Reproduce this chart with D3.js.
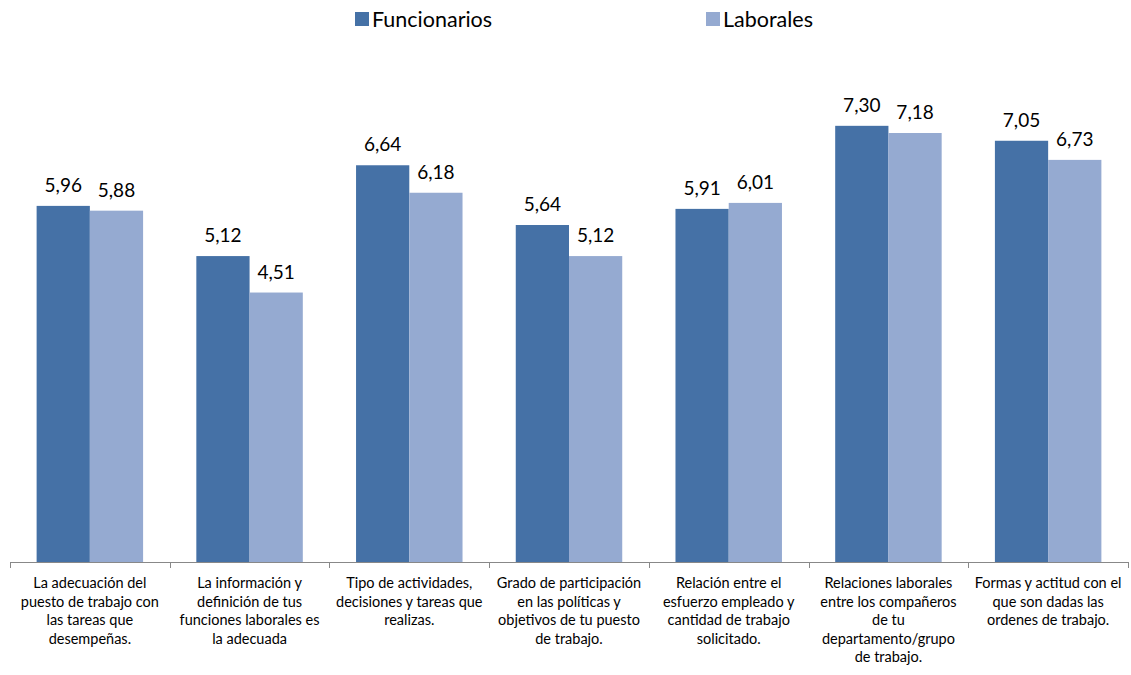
<!DOCTYPE html>
<html><head><meta charset="utf-8">
<script src="https://cdn.jsdelivr.net/npm/d3@7"></script>
<style>body{margin:0;background:#fff}svg{display:block;font-family:Lato,"Open Sans",sans-serif}</style>
</head><body><svg id="c" width="1131" height="675"></svg>
<script>
const categories = [
  ["La adecuación del","puesto de trabajo con","las tareas que","desempeñas."],
  ["La información y","definición de tus","funciones laborales es","la adecuada"],
  ["Tipo de actividades,","decisiones y tareas que","realizas."],
  ["Grado de participación","en las políticas y","objetivos de tu puesto","de trabajo."],
  ["Relación entre el","esfuerzo empleado y","cantidad de trabajo","solicitado."],
  ["Relaciones laborales","entre los compañeros","de tu","departamento/grupo","de trabajo."],
  ["Formas y actitud con el","que son dadas las","ordenes de trabajo."]
];
const seriesNames = ["Funcionarios","Laborales"];
const funcionarios = [5.96,5.12,6.64,5.64,5.91,7.30,7.05];
const laborales = [5.88,4.51,6.18,5.12,6.01,7.18,6.73];
const colors = ["#4571A6","#95AAD1"];

const svg = d3.select("#c");
const idx = d3.range(categories.length);
const x = d3.scaleBand().domain(idx).range([10,1128]).paddingInner(0).paddingOuter(0);
const y = d3.scaleLinear().domain([0,9]).range([562,562-9*59.75]);
const inner = d3.scaleBand().domain([0,1]).range([0,x.bandwidth()]).paddingInner(0).paddingOuter(0.5);
const series = [funcionarios, laborales];
series.forEach((vals,si)=>{
  const g = svg.append("g");
  g.selectAll("rect").data(vals).join("rect")
    .attr("x",(d,i)=>x(i)+inner(si))
    .attr("y",d=>y(d))
    .attr("width",inner.bandwidth())
    .attr("height",d=>y(0)-y(d))
    .attr("fill",colors[si]);
  g.selectAll("text").data(vals).join("text")
    .attr("x",(d,i)=>x(i)+inner(si)+inner.bandwidth()/2)
    .attr("y",d=>y(d)-14)
    .attr("text-anchor","middle")
    .attr("font-size",19)
    .attr("fill","#000")
    .text(d=>d.toFixed(2).replace(".",","));
});

const axis = svg.append("g");
axis.append("line").attr("x1",10).attr("x2",1128).attr("y1",562.5).attr("y2",562.5).attr("stroke","#888").attr("stroke-width",1);
const ticks = idx.map(i=>x(i)).concat([x.range()[1]]);
axis.selectAll("line.t").data(ticks).join("line").attr("class","t")
  .attr("x1",d=>Math.round(d)+0.5).attr("x2",d=>Math.round(d)+0.5)
  .attr("y1",562).attr("y2",568).attr("stroke","#888");
categories.forEach((lines,i)=>{
  const t = axis.append("text").attr("text-anchor","middle").attr("font-size",14.5).attr("fill","#000");
  lines.forEach((ln,j)=>{
    t.append("tspan").attr("x",x(i)+x.bandwidth()/2).attr("y",588+j*18.5).text(ln);
  });
});

const legX = [355,706];
seriesNames.forEach((n,i)=>{
  svg.append("rect").attr("x",legX[i]).attr("y",12).attr("width",14).attr("height",14).attr("fill",colors[i]);
  svg.append("text").attr("x",legX[i]+17).attr("y",27).attr("font-size",21.5).attr("fill","#000").text(n);
});
</script></body></html>
